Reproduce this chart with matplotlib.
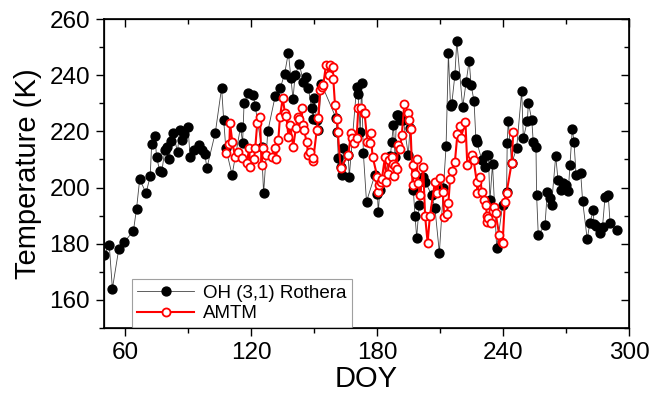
import matplotlib
matplotlib.use("Agg")
import matplotlib.pyplot as plt
from matplotlib.ticker import MultipleLocator

plt.rcParams["font.family"] = ["Liberation Sans", "DejaVu Sans"]

# OH (3,1) Rothera nightly temperatures
oh_doy = [50, 52.5, 54, 57, 59.5, 64, 65.5, 67, 70, 72, 72.7, 74.3, 75, 76.5, 77.5,
          79, 80, 81, 82, 83, 85, 86, 87, 88, 90, 91, 93, 95, 96.5, 98, 99, 103,
          106, 107, 108, 111, 115, 116, 116.7, 118.7, 121, 122, 125, 126, 128,
          131.5, 134, 136, 137.8, 139, 140, 141, 143, 144.9, 146, 147.3, 148.9,
          149.7, 150, 151.3, 152, 153.5, 160.5, 161, 161.6, 163, 163.5, 164,
          166.3, 166.8, 170.3, 171, 172, 172.7, 173.5, 175, 179, 180.2, 180.6,
          181.4, 186.4, 187, 187.8, 188.6, 189.3, 190.1, 190.8, 192.5, 194.9,
          195.7, 197.3, 198.1, 198.9, 200.1, 202, 203, 206, 207.6, 209.7, 211.6,
          212.9, 214, 215, 215.6, 217.1, 218, 220.8, 222.4, 223.9, 224.8, 226.2,
          227.1, 227.5, 229.9, 231.4, 231.8, 233, 233.8, 235, 237, 239.8, 241.7,
          242, 242.5, 244.1, 246.5, 248.9, 249.7, 251.6, 252.1, 253.7, 254.4,
          255.7, 256, 256.8, 260, 261.1, 262.4, 263.1, 265.1, 266.2, 267.5, 268.7,
          269.9, 271.1, 271.9, 273, 273.8, 274.8, 277, 277.9, 280.1, 281.4, 283,
          283.3, 284.5, 286.2, 287.4, 288.6, 290.1, 291, 294.1]
oh_temp = [176, 179.5, 164, 178, 180.5, 184.5, 192.5, 203, 198, 204, 215.5, 218.5,
           211, 206, 205.5, 213.5, 214.5, 210, 216.5, 219.5, 212.5, 220.5, 217, 219,
           221.5, 211, 213.5, 215, 213.5, 212, 207, 219.5, 235.5, 224, 214, 204.5,
           221.5, 216, 230, 233.5, 233, 229, 214.5, 198, 220, 232.5, 235.5, 240.5,
           248, 239, 231.5, 240, 244, 237.7, 239.5, 235.3, 228.2, 224.5, 231.8, 224,
           220.5, 237, 224.7, 219.9, 210.4, 207.4, 204.5, 214, 211.6, 203.9, 235.9,
           233.3, 219.9, 237.1, 212.2, 195, 204.5, 197.8, 191.4, 199.1, 211.3, 216.3,
           222.3, 211, 225.8, 226, 224, 224.1, 211.6, 221.1, 199.1, 189.9, 182.2,
           193.8, 203.9, 202, 197.4, 192.6, 176.8, 199.7, 214.8, 247.8, 229, 229.8,
           240.1, 252.2, 228.6, 237.4, 245.2, 236.5, 230.8, 217.2, 216.3, 209.8,
           207.4, 211.6, 211.6, 195.6, 208.3, 178.4, 193.8, 198.5, 215.8, 223.7,
           208.6, 214, 234.4, 217.5, 223.8, 230.2, 224, 216.3, 214.6, 197.4, 183.1,
           186.7, 198.5, 196.2, 193.8, 211.2, 202.7, 199.1, 201.5, 201, 198.9, 208.1,
           220.9, 216.3, 204.5, 205.1, 195.3, 181.6, 187.5, 192, 187, 186.3, 183.7,
           186.1, 196.8, 197.4, 187.3, 184.9]

# AMTM temperatures
amtm_doy = [108, 109.7, 110, 111.1, 112.4, 113.8, 115.6, 117.9, 119.2, 119.5, 121.4,
            122, 123, 124.3, 125, 125.5, 127, 129.8, 131.4, 131.8, 133, 133.8, 135.1,
            136.2, 136.9, 137.8, 138.6, 140.1, 141.4, 142.2, 142.9, 144.1, 144.6,
            145.2, 146.5, 147.3, 148.1, 149.4, 149.7, 151.3, 152, 152.9, 153.7,
            154.4, 155.7, 157.3, 157.6, 158.9, 159.2, 160, 161.1, 161.3, 162.7,
            166.3, 167.6, 168.1, 169, 170.3, 171.1, 172.2, 173.8, 174.1, 175.4,
            176.5, 177, 177.9, 180.2, 180.5, 181.1, 182, 182.3, 183.8, 184.4, 185.2,
            185.6, 187, 187.7, 188.1, 188.6, 189.3, 190.1, 191, 191.8, 193, 194.9,
            195.3, 196, 197, 197.3, 198, 198.9, 199.4, 200.5, 202, 202.9, 204.1,
            205.2, 207.6, 208.4, 210, 211.3, 212, 213.2, 214, 214.8, 215.6, 217.1,
            218.3, 219.5, 219.9, 222.1, 223, 225.1, 226, 227.5, 227.8, 229.1, 229.9,
            230.9, 232, 232.2, 232.6, 233, 234.1, 235, 235.7, 236.5, 238.2, 239.3,
            239.8, 240.9, 241.7, 244.1, 244.9]
amtm_temp = [212.4, 215.5, 222.9, 216.3, 211, 212.7, 210.6, 208.6, 214, 207.4, 210,
             214, 223.1, 225, 208.1, 214, 211.7, 211, 214, 210, 216.9, 225.2, 231.8,
             226.4, 225.4, 218.1, 222.3, 214.6, 221.3, 225, 224.5, 228.2, 222.1,
             220.5, 216.3, 211.5, 212.8, 209.6, 210.4, 220.5, 224.7, 234.7, 235.9,
             236.5, 243.6, 240.1, 243.6, 243, 238.5, 229.4, 224.3, 219.9, 206.9,
             211.6, 219.3, 217.5, 215.8, 217.5, 228.2, 228.2, 226.4, 226.4, 216.3,
             215.8, 219.3, 211, 203.7, 198.3, 200.9, 201.8, 203, 210.8, 202, 205,
             209.8, 210.8, 208.5, 204.1, 207.7, 206.6, 215.2, 213.8, 218.7, 229.8,
             226.5, 224.1, 220.7, 200.8, 208, 205, 210, 201.5, 197.4, 207.2, 189.9,
             180.4, 189.9, 202.1, 198.2, 203.3, 198.5, 189.6, 190.5, 194.6, 203, 206,
             209.2, 219.1, 221.8, 217.7, 223.5, 208, 211.6, 209.8, 202.1, 198, 203.9,
             198.5, 195.6, 193.8, 190, 187.6, 189.1, 187.3, 191.5, 193.2, 190.8,
             183.1, 180.7, 180.1, 195, 198.2, 208.6, 219.9]

fig = plt.figure(figsize=(6.52, 4.0), dpi=100)
ax = fig.add_axes([104 / 652, 72 / 400, 525 / 652, 309 / 400])

ax.plot(oh_doy, oh_temp, color="#444444", lw=0.6, marker="o", ms=6.4,
        mfc="black", mec="black", label="OH (3,1) Rothera", zorder=2)
ax.plot(amtm_doy, amtm_temp, color="#ff0000", lw=1.5, marker="o", ms=5.8,
        mfc="white", mec="#ff0000", mew=1.3, label="AMTM", zorder=3)

ax.set_xlim(50, 300)
ax.set_ylim(150, 260)
ax.xaxis.set_major_locator(MultipleLocator(60))
ax.xaxis.set_minor_locator(MultipleLocator(30))
ax.yaxis.set_major_locator(MultipleLocator(20))
ax.yaxis.set_minor_locator(MultipleLocator(10))
ax.set_yticks([160, 180, 200, 220, 240, 260])
ax.tick_params(which="major", direction="out", length=6, width=1, labelsize=17.5,
               pad=4)
ax.tick_params(which="minor", direction="out", length=3.5, width=1)
ax.set_xlabel("DOY", fontsize=21, labelpad=1)
ax.set_ylabel("Temperature (K)", fontsize=21, labelpad=5)
for s in ax.spines.values():
    s.set_linewidth(1.2)

# mirrored inward ticks on top and right
for tw in (ax.twinx(), ax.twiny()):
    tw.set_xlim(50, 300)
    tw.set_ylim(150, 260)
    tw.xaxis.set_major_locator(MultipleLocator(60))
    tw.xaxis.set_minor_locator(MultipleLocator(30))
    tw.yaxis.set_major_locator(MultipleLocator(20))
    tw.yaxis.set_minor_locator(MultipleLocator(10))
    tw.tick_params(which="major", direction="in", length=6, width=1,
                   labelleft=False, labelright=False, labeltop=False, labelbottom=False)
    tw.tick_params(which="minor", direction="in", length=3.5, width=1)

leg = ax.legend(loc="lower left", bbox_to_anchor=(0.053, 0.0), fontsize=13.5,
                frameon=True, fancybox=False, edgecolor="#888888",
                handlelength=3.0, borderpad=0.3, labelspacing=0.2,
                handletextpad=0.5, borderaxespad=0)
leg.get_frame().set_linewidth(0.8)

fig.savefig("out.png", dpi=100)
